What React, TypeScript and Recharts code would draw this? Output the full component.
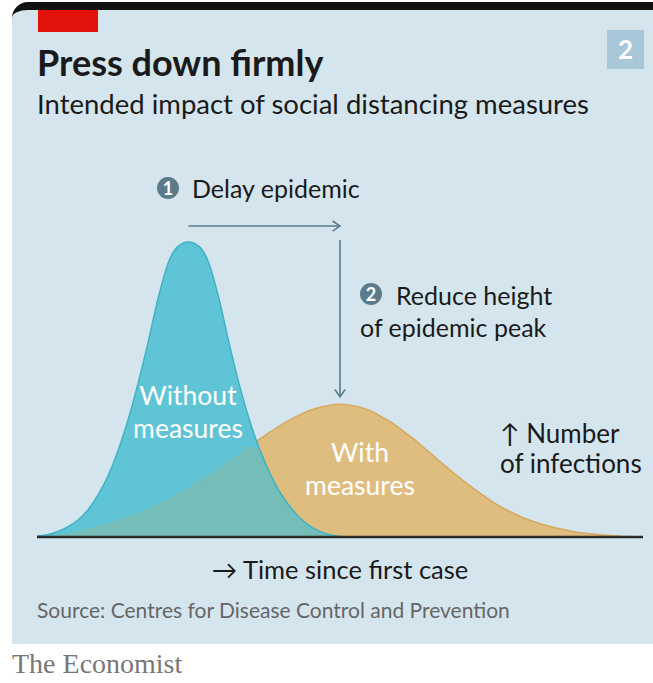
import React from 'react';
import { ComposedChart, Area, Line, XAxis, YAxis, ReferenceLine } from 'recharts';

// Number of infections (time steps 0..60)
const withoutMeasures = [
  0.3, 0.8, 1.8, 3.3, 5.6, 9, 14, 20.5, 29, 39.5, 52, 66, 81, 93, 98.6, 100,
  98.6, 93, 81, 66, 52, 40, 30, 22, 15.5, 10.5, 6.5, 3.8, 1.9, 0.8, 0.2,
  0, 0, 0, 0, 0, 0, 0, 0, 0, 0, 0, 0, 0, 0, 0, 0, 0, 0, 0, 0, 0, 0, 0, 0, 0, 0, 0, 0, 0, 0,
];
const withMeasures = [
  0.1, 0.4, 0.8, 1.3, 2.0, 2.8, 3.7, 4.7, 5.8, 7.0, 8.3, 9.7, 11.3, 13.0, 14.9, 16.9,
  19.0, 21.2, 23.5, 25.9, 28.3, 30.7, 33.1, 35.4, 37.6, 39.6, 41.4, 42.9, 44.0, 44.7, 45,
  44.7, 44, 42.8, 41, 39, 36.6, 34, 31.2, 28.3, 25.3, 22.4, 19.6, 17, 14.5, 12.2,
  10.1, 8.3, 6.7, 5.4, 4.3, 3.4, 2.6, 1.9, 1.4, 1.0, 0.7, 0.4, 0.2, 0.1, 0,
];

// annotation anchors (data coordinates)
const peakWithout = 15;
const peakWith = 30;
const arrowLevel = 105.4;
const reduceTop = 100.7;
const reduceBottom = 47.5;

const data = withoutMeasures.map((v, i) => ({
  t: i,
  without: v,
  with: withMeasures[i],
  both: Math.min(v, withMeasures[i]),
}));

const font = 'Lato, "Open Sans", sans-serif';

function ArrowShape(props: any) {
  const { x1, y1, x2, y2 } = props;
  const ang = Math.atan2(y2 - y1, x2 - x1);
  const s = 9;
  const a1 = ang + Math.PI - 0.6;
  const a2 = ang + Math.PI + 0.6;
  return (
    <g stroke="#5b7b8b" strokeWidth={1.6} fill="none">
      <line x1={x1} y1={y1} x2={x2} y2={y2} />
      <polyline
        points={`${x2 + s * Math.cos(a1)},${y2 + s * Math.sin(a1)} ${x2},${y2} ${x2 + s * Math.cos(a2)},${y2 + s * Math.sin(a2)}`}
      />
    </g>
  );
}

function Txt({ x, base, size, children, color = '#1a1a1a', weight = 400, center = false, w = 0 }: any) {
  return (
    <div
      style={{
        position: 'absolute',
        left: center ? x - w / 2 : x,
        top: base - size * 0.887,
        width: center ? w : undefined,
        textAlign: center ? 'center' : 'left',
        fontSize: size,
        lineHeight: 1,
        fontWeight: weight,
        color,
        whiteSpace: 'nowrap',
        fontFamily: font,
      }}
    >
      {children}
    </div>
  );
}

function Num({ cx, cy, n }: any) {
  return (
    <div
      style={{
        position: 'absolute',
        left: cx - 11,
        top: cy - 11,
        width: 22,
        height: 22,
        borderRadius: 11,
        background: '#5b7b8b',
        color: '#fff',
        fontFamily: font,
        fontWeight: 700,
        fontSize: 18,
        lineHeight: '22px',
        textAlign: 'center',
      }}
    >
      {n}
    </div>
  );
}

export default function App() {
  return (
    <div style={{ position: 'absolute', left: 0, top: 0, width: 653, height: 683, background: '#fff', overflow: 'hidden' }}>
      {/* panel */}
      <div
        style={{
          position: 'absolute',
          left: 12,
          top: 2,
          width: 660,
          height: 634,
          background: '#d4e5ee',
          borderTop: '8px solid #111',
          borderTopLeftRadius: 16,
        }}
      />
      <div style={{ position: 'absolute', left: 38, top: 10, width: 60, height: 22, background: '#e3120b' }} />
      <div
        style={{
          position: 'absolute',
          left: 607,
          top: 30,
          width: 37,
          height: 39,
          background: '#a8c8da',
          color: '#fff',
          fontFamily: font,
          fontWeight: 700,
          fontSize: 26,
          lineHeight: '39px',
          textAlign: 'center',
        }}
      >
        2
      </div>

      <Txt x={37} base={76} size={36} weight={700}>Press down firmly</Txt>
      <Txt x={37} base={114} size={27.5}>Intended impact of social distancing measures</Txt>

      <div style={{ position: 'absolute', left: 37, top: 212, width: 606, height: 328 }}>
        <ComposedChart width={606} height={328} data={data} margin={{ top: 30, right: 0, bottom: 3, left: 0 }}>
          <XAxis dataKey="t" type="number" domain={[0, 60]} hide />
          <YAxis type="number" domain={[0, 100]} hide />
          <Area
            type="monotone"
            dataKey="with"
            fill="#dfbd7f"
            fillOpacity={1}
            stroke="#d6a95c"
            strokeWidth={1.5}
            isAnimationActive={false}
          />
          <Area
            type="monotone"
            dataKey="without"
            fill="#5fc4d5"
            fillOpacity={1}
            stroke="none"
            isAnimationActive={false}
          />
          <Area
            type="monotone"
            dataKey="both"
            fill="#74bdb9"
            fillOpacity={1}
            stroke="none"
            isAnimationActive={false}
          />
          <Line
            type="monotone"
            dataKey="without"
            stroke="#3fb2c7"
            strokeWidth={1.5}
            dot={false}
            isAnimationActive={false}
          />
          <ReferenceLine y={0} stroke="#2b2b2b" strokeWidth={2.5} />
          <ReferenceLine
            segment={[{ x: peakWithout, y: arrowLevel }, { x: peakWith, y: arrowLevel }]}
            ifOverflow="visible"
            shape={ArrowShape}
          />
          <ReferenceLine
            segment={[{ x: peakWith, y: reduceTop }, { x: peakWith, y: reduceBottom }]}
            ifOverflow="visible"
            shape={ArrowShape}
          />
        </ComposedChart>
      </div>

      <Num cx={168} cy={188} n="1" />
      <Txt x={192} base={198} size={25}>Delay epidemic</Txt>
      <Num cx={371} cy={294} n="2" />
      <Txt x={396} base={305} size={25}>Reduce height</Txt>
      <Txt x={360} base={337} size={25}>of epidemic peak</Txt>

      <Txt x={188} w={170} center base={406} size={26.5} color="#fff">Without</Txt>
      <Txt x={188} w={170} center base={439} size={26.5} color="#fff">measures</Txt>
      <Txt x={360} w={170} center base={463} size={26.5} color="#fff">With</Txt>
      <Txt x={360} w={170} center base={496} size={26.5} color="#fff">measures</Txt>

      <Txt x={500} base={443} size={26}>↑ Number</Txt>
      <Txt x={500} base={473} size={26}>of infections</Txt>

      <Txt x={340} w={320} center base={580} size={25.5}>→ Time since first case</Txt>
      <Txt x={37} base={618} size={21} color="#666">Source: Centres for Disease Control and Prevention</Txt>

      <div
        style={{
          position: 'absolute',
          left: 12,
          top: 650,
          fontFamily: '"Liberation Serif", "DejaVu Serif", serif',
          fontSize: 28,
          lineHeight: 1,
          color: '#777',
        }}
      >
        The Economist
      </div>
    </div>
  );
}
